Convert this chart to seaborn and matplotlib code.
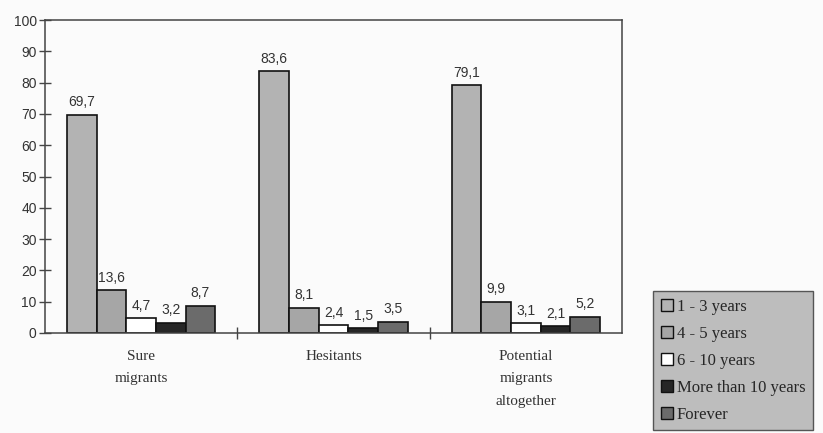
import pandas as pd
import seaborn as sns
import matplotlib.pyplot as plt
from matplotlib.patches import Patch

# data
groups = ['Sure\nmigrants', 'Hesitants', 'Potential\nmigrants\naltogether']
durations = ['1 - 3 years', '4 - 5 years', '6 - 10 years', 'More than 10 years', 'Forever']
values_13 = [69.7, 83.6, 79.1]
values_45 = [13.6, 8.1, 9.9]
values_610 = [4.7, 2.4, 3.1]
values_10plus = [3.2, 1.5, 2.1]
values_forever = [8.7, 3.5, 5.2]

colors = ['#b3b3b3', '#a6a6a6', '#ffffff', '#262626', '#6b6b6b']

rows = []
for dur, vals in zip(durations, [values_13, values_45, values_610, values_10plus, values_forever]):
    for g, v in zip(groups, vals):
        rows.append({'group': g, 'duration': dur, 'value': v})
df = pd.DataFrame(rows)

sns.set_style('white')
plt.rcParams['font.family'] = ['Liberation Sans', 'DejaVu Sans']

fig = plt.figure(figsize=(8.23, 4.33), dpi=100)
fig.patch.set_facecolor('#fbfbfb')
ax = fig.add_axes([45 / 823, 100 / 433, 577 / 823, 313 / 433])
ax.set_facecolor('#fbfbfb')

sns.barplot(data=df, x='group', y='value', hue='duration', hue_order=durations,
            palette=colors, edgecolor='#111111', linewidth=1.2, width=0.77,
            ax=ax, legend=False)

for cont in ax.containers:
    ax.bar_label(cont, labels=[f'{v:.1f}'.replace('.', ',') for v in cont.datavalues],
                 padding=4, fontsize=10, color='#333333')

ax.set_ylim(0, 100)
ax.set_xlim(-0.5, 2.5)
ax.set_yticks(range(0, 101, 10))
ax.tick_params(axis='y', which='major', direction='inout', length=8, width=1,
               color='#444444', labelsize=10, labelcolor='#333333', pad=2, left=True)
ax.set_xticks([0, 1, 2])
ax.set_xticklabels(groups, family=['Liberation Serif'], fontsize=11, color='#333333',
                   linespacing=1.95)
ax.tick_params(axis='x', which='major', length=0, pad=12)
ax.set_xticks([0.5, 1.5], minor=True)
ax.tick_params(axis='x', which='minor', direction='inout', length=8, width=1,
               color='#444444', bottom=True)
ax.set_xlabel('')
ax.set_ylabel('')
for side in ['top', 'right', 'left', 'bottom']:
    ax.spines[side].set_visible(True)
    ax.spines[side].set_color('#444444')
    ax.spines[side].set_linewidth(1.1)

handles = [Patch(facecolor=c, edgecolor='#111111', linewidth=1) for c in colors]
leg = fig.legend(handles, durations, loc='upper left', bbox_to_anchor=(645 / 823, 1 - 283 / 433),
                 frameon=True, fancybox=False, handlelength=0.7, handleheight=0.7,
                 handletextpad=0.25, labelspacing=0.66, borderpad=0.45,
                 prop={'family': 'Liberation Serif', 'size': 12})
leg.get_frame().set_facecolor('#bdbdbd')
leg.get_frame().set_edgecolor('#555555')
leg.get_frame().set_alpha(1)

fig.savefig('out.png', dpi=100, facecolor=fig.get_facecolor())
